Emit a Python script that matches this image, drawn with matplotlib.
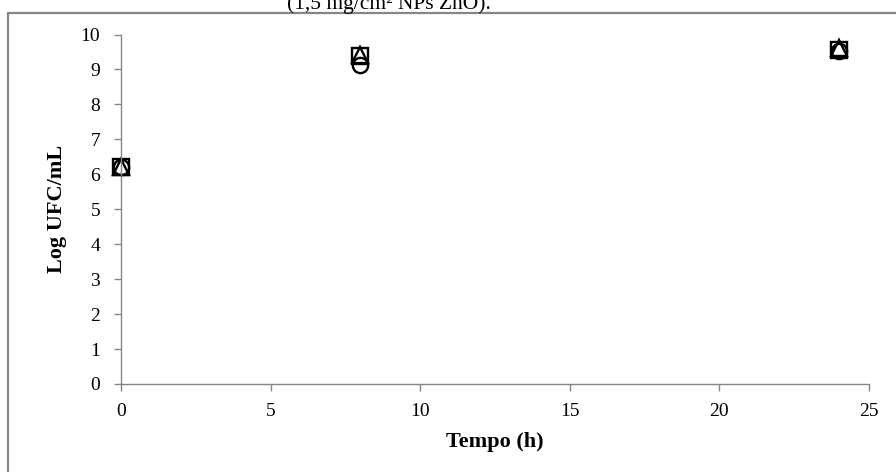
import matplotlib.pyplot as plt
from matplotlib.patches import Rectangle

# tempo (h) e Log UFC/mL para as tres series
tempo = [0, 8, 24]
serie_circulo = [6.2, 9.12, 9.52]
serie_quadrado = [6.2, 9.38, 9.55]
serie_triangulo = [6.2, 9.42, 9.62]

x_ticks = [0, 5, 10, 15, 20, 25]
y_ticks = list(range(0, 11))

plt.rcParams['font.family'] = ['Liberation Serif', 'DejaVu Serif']

fig = plt.figure(figsize=(8.96, 4.72), dpi=100)
ax = fig.add_axes([121 / 896, 1 - 384 / 472, (869 - 121) / 896, (384 - 34.5) / 472])

# moldura externa do grafico (cortada na direita e embaixo)
fig.patches.append(Rectangle((8 / 896, -0.05), 1.1, 1 - 13 / 472 + 0.05,
                             transform=fig.transFigure, fill=False,
                             edgecolor='#868686', linewidth=1.6, zorder=0))

# titulo cortado no topo da imagem
fig.text(389 / 896, 1 - 8.5 / 472, "(1,5 mg/cm² NPs ZnO).", ha='center',
         va='baseline', fontsize=15.5, color='black')

mk = dict(linestyle='none', markersize=11, markerfacecolor='none',
          markeredgecolor='black', markeredgewidth=1.7, clip_on=False)
ax.plot(tempo, serie_circulo, marker='o', **mk)
ax.plot(tempo, serie_quadrado, marker='s', **mk)
ax.plot(tempo, serie_triangulo, marker='^', **mk)

ax.set_xlim(0, 25)
ax.set_ylim(0, 10)
ax.set_xticks(x_ticks)
ax.set_yticks(y_ticks)

for s in ['top', 'right']:
    ax.spines[s].set_visible(False)
for s in ['left', 'bottom']:
    ax.spines[s].set_color('#868686')
    ax.spines[s].set_linewidth(1.0)

ax.tick_params(direction='out', length=5, width=1.0, color='#868686',
               labelsize=14, labelcolor='black', pad=9)
ax.tick_params(axis='y', pad=10)

ax.set_xlabel("Tempo (h)", fontsize=16, fontweight='bold', labelpad=8)
ax.set_ylabel("Log UFC/mL", fontsize=16, fontweight='bold', labelpad=10)

fig.savefig("out.png", dpi=100)
